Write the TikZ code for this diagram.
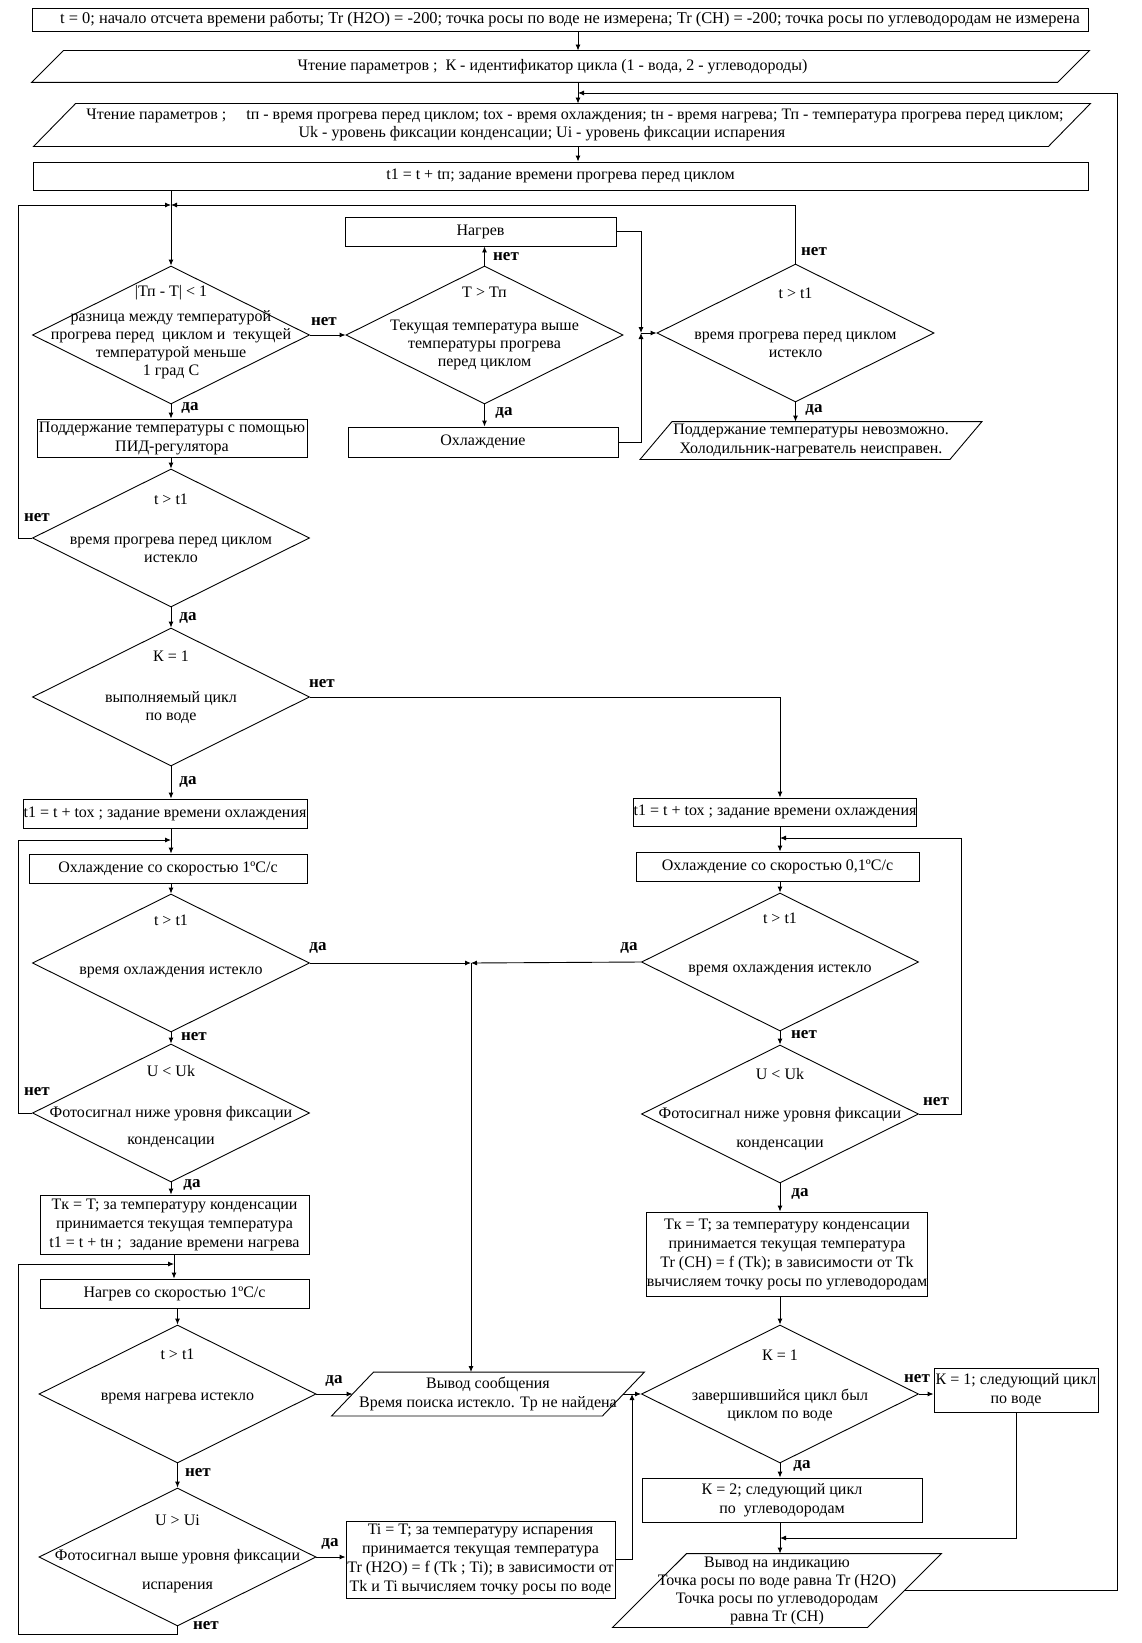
\documentclass[tikz,border=0pt]{standalone}
\usepackage{fontspec}
\setmainfont{Liberation Serif}
\usetikzlibrary{shapes.geometric,arrows.meta}

\begin{document}
\begin{tikzpicture}[x=1pt,y=-1pt,line width=0.9pt,
  font=\fontsize{16}{19}\selectfont,
  blk/.style={draw,inner sep=0pt,align=center},
  iotxt/.style={inner sep=0pt,align=center},
  io/.style={draw},
  dec/.style={diamond,draw,inner sep=0pt,minimum width=277pt,minimum height=138pt},
  dtxt/.style={align=center,inner sep=0pt,font=\fontsize{16}{18}\selectfont},
  hdr/.style={font=\fontsize{16}{18}\selectfont},
  lbl/.style={font=\fontsize{17}{20}\selectfont\bfseries,inner sep=0pt},
  ar/.style={-{Latex[length=6pt,width=5pt]}}]
\useasboundingbox (0,0) rectangle (1142,1643);
% ---- columns and junctions
\coordinate (lc) at (171,0);
\coordinate (lc2) at (177.5,0);
\coordinate (rc) at (780,0);
\coordinate (lft) at (18,0);
\coordinate (rr) at (961,0);
\coordinate (rgt) at (1117,0);
\coordinate (bt) at (0,1634);
\coordinate (sp) at (578,93);
\coordinate (j1) at (171,205);
\coordinate (j2) at (641,333);
\coordinate (j3) at (171,840);
\coordinate (j4) at (471,963);
\coordinate (j5) at (174,1264);
\coordinate (j6) at (632,1394);
\coordinate (j7) at (780,838);
\coordinate (j8) at (780,1538);
% ---- header
\node[blk,font=\fontsize{16.4}{18}\selectfont,minimum width=1056pt,minimum height=23pt] (b0) at (560,19.5) {\hspace*{20pt}t = 0; начало отсчета времени работы; Tr (H2O) = -200; точка росы по воде не измерена; Tr (CH) = -200; точка росы по углеводородам не измерена};
\node[iotxt,hdr,minimum width=1025pt,minimum height=31pt] (p1) at (560.5,66.5) {Чтение параметров ;\ \ К - идентификатор цикла (1 - вода, 2 - углеводороды)\hspace*{16pt}};
\draw[io] ([xshift=-16pt]p1.south west) -- ([xshift=16pt]p1.north west) -- ([xshift=16pt]p1.north east) -- ([xshift=-16pt]p1.south east) -- cycle;
\node[iotxt,hdr,minimum width=1014pt,minimum height=42pt] (p2) at (562,125) {\hspace*{26pt}Чтение параметров ;\quad\ tп - время прогрева перед циклом; tох - время охлаждения; tн - время нагрева; Тп - температура прогрева перед циклом;\\Uk - уровень фиксации конденсации; Ui - уровень фиксации испарения\hspace*{40pt}};
\draw[io] ([xshift=-21pt]p2.south west) -- ([xshift=21pt]p2.north west) -- ([xshift=21pt]p2.north east) -- ([xshift=-21pt]p2.south east) -- cycle;
\node[blk,hdr,minimum width=1055pt,minimum height=28pt] (b1) at (560.5,176) {t1 = t + tп; задание времени прогрева перед циклом};
% ---- preheating
\node[dec] (d1) at (171,335) {};
\node[dtxt] (d1t) at (171,332) {|Тп - T| < 1\\[7pt]разница между температурой\\прогрева перед\ \ циклом и\ \ текущей\\температурой меньше\\1 град С};
\node[dec] (d2) at (484.5,335) {};
\node[dtxt] (d2t) at (484.5,328.5) {Т > Тп\\[15pt]Текущая температура выше\\температуры прогрева\\перед циклом};
\node[dec] (d3) at (795.5,333) {};
\node[dtxt] (d3t) at (795.5,322.5) {t > t1\\[23pt]время прогрева перед циклом\\истекло};
\node[blk,minimum width=271pt,minimum height=29pt] (heat) at (480.5,231.5) {Нагрев};
\node[blk,minimum width=270pt,minimum height=30pt] (cool) at (483,442) {Охлаждение};
\node[blk,minimum width=270pt,minimum height=38pt] (pid) at (172,438) {Поддержание температуры с помощью\\ПИД-регулятора};
\node[iotxt,minimum width=309pt,minimum height=37pt] (p3) at (811,440.5) {Поддержание температуры невозможно.\\Холодильник-нагреватель неисправен.};
\draw[io] ([xshift=-16pt]p3.south west) -- ([xshift=16pt]p3.north west) -- ([xshift=16pt]p3.north east) -- ([xshift=-16pt]p3.south east) -- cycle;
\node[dec] (d4) at (171,538) {};
\node[dtxt] (d4t) at (171,528.5) {t > t1\\[22pt]время прогрева перед циклом\\истекло};
\node[dec] (d5) at (171,697) {};
\node[dtxt] (d5t) at (171,687) {К = 1\\[23pt]выполняемый цикл\\по воде};
% ---- water cycle (left)
\node[blk,minimum width=284pt,minimum height=29pt] (tox1) at (165,813.5) {t1 = t + tох ; задание времени охлаждения};
\node[blk,minimum width=278pt,minimum height=29pt] (cl1) at (168,868.5) {Охлаждение со скоростью 1ºC/c};
\node[dec] (dl3) at (171,963) {};
\node[dtxt] (dl3t) at (171,946.5) {t > t1\\[31pt]время охлаждения истекло};
\node[dec] (dl4) at (171,1113) {};
\node[dtxt] (dl4t) at (171,1106) {U < Uk\\[23pt]Фотосигнал ниже уровня фиксации\\[9pt]конденсации};
\node[blk,minimum width=269pt,minimum height=59pt] (tkl) at (174.5,1224.5) {Tк = T; за температуру конденсации\\принимается текущая температура\\t1 = t + tн ;\ \ задание времени нагрева};
\node[blk,minimum width=269pt,minimum height=29pt] (ht) at (174.5,1293.5) {Нагрев со скоростью 1ºC/c};
\node[dec] (dl5) at (177.5,1394) {};
\node[dtxt] (dl5t) at (177.5,1376.5) {t > t1\\[23pt]время нагрева истекло};
\node[dec] (dl6) at (177.5,1557) {};
\node[dtxt] (dl6t) at (177.5,1554) {U > Ui\\[17pt]Фотосигнал выше уровня фиксации\\[11pt]испарения};
\node[blk,minimum width=269pt,minimum height=77pt] (ti) at (480.5,1559.5) {Ti = T; за температуру испарения\\принимается текущая температура\\Tr (H2O) = f (Tk ; Ti); в зависимости от\\Tk и Ti вычисляем точку росы по воде};
\node[iotxt,minimum width=270pt,minimum height=43pt] (p4) at (488,1394) {Вывод сообщения\\Время поиска истекло. Tр не найдена};
\draw[io] ([xshift=-21pt]p4.south west) -- ([xshift=21pt]p4.north west) -- ([xshift=21pt]p4.north east) -- ([xshift=-21pt]p4.south east) -- cycle;
% ---- hydrocarbon cycle (right)
\node[blk,minimum width=282pt,minimum height=28pt] (tox2) at (775,812) {t1 = t + tох ; задание времени охлаждения};
\node[blk,minimum width=283pt,minimum height=29pt] (cl2) at (777.5,866.5) {Охлаждение со скоростью 0,1ºC/c};
\node[dec] (dr3) at (780,962) {};
\node[dtxt] (dr3t) at (780,944.5) {t > t1\\[31pt]время охлаждения истекло};
\node[dec] (dr4) at (780,1114) {};
\node[dtxt] (dr4t) at (780,1109) {U < Uk\\[21pt]Фотосигнал ниже уровня фиксации\\[11pt]конденсации};
\node[blk,minimum width=280pt,minimum height=84pt] (tkr) at (787,1254) {Tк = T; за температуру конденсации\\принимается текущая температура\\Tr (CH) = f (Tk); в зависимости от Tk\\вычисляем точку росы по углеводородам};
\node[dec] (dr5) at (780,1394) {};
\node[dtxt] (dr5t) at (780,1385.5) {К = 1\\[22pt]завершившийся цикл был\\циклом по воде};
\node[blk,minimum width=164pt,minimum height=44pt] (k1) at (1016,1390) {К = 1; следующий цикл\\по воде};
\node[blk,minimum width=280pt,minimum height=44pt] (k2) at (782,1500) {К = 2; следующий цикл\\по\ \ углеводородам};
\node[iotxt,font=\fontsize{16}{18}\selectfont,minimum width=254pt,minimum height=73pt] (p5) at (777,1590.5) {Вывод на индикацию\\Точка росы по воде равна Tr (H2O)\\Точка росы по углеводородам\\равна Tr (CH)};
\draw[io] ([xshift=-37pt]p5.south west) -- ([xshift=37pt]p5.north west) -- ([xshift=37pt]p5.north east) -- ([xshift=-37pt]p5.south east) -- cycle;
% ---- labels
\node[lbl] (n1) at (324,322) {нет};
\node[lbl] (y1) at (190,408) {да};
\node[lbl] (n2) at (506,257) {нет};
\node[lbl] (y2) at (504,413) {да};
\node[lbl] (n3) at (814,252) {нет};
\node[lbl] (y3) at (814,410) {да};
\node[lbl] (n4) at (37,518) {нет};
\node[lbl] (y4) at (188,618) {да};
\node[lbl] (n5) at (322,684) {нет};
\node[lbl] (y5) at (188,782) {да};
\node[lbl] (y6) at (318,948) {да};
\node[lbl] (n6) at (194,1037) {нет};
\node[lbl] (n7) at (37,1092) {нет};
\node[lbl] (y7) at (192,1185) {да};
\node[lbl] (y8) at (334,1381) {да};
\node[lbl] (n8) at (198,1473) {нет};
\node[lbl] (y9) at (330,1544) {да};
\node[lbl] (n9) at (206,1626) {нет};
\node[lbl] (y10) at (629,948) {да};
\node[lbl] (n10) at (804,1035) {нет};
\node[lbl] (n11) at (936,1102) {нет};
\node[lbl] (y11) at (800,1194) {да};
\node[lbl] (n12) at (917,1379) {нет};
\node[lbl] (y12) at (802,1466) {да};
% ---- connections
\draw[ar] (b0.south -| sp) -- (p1.north -| sp);
\draw[ar] (p1.south -| sp) -- (p2.north -| sp);
\draw[ar] (p2.south -| sp) -- (b1.north -| sp);
\draw[ar] (p5.east) -- (p5.east -| rgt) |- (sp);
\draw[ar] (b1.south -| j1) -- (d1.north);
\draw[ar] (d1.east) -- (d2.west);
\draw[ar] (d1.south) -- (d1.south |- pid.north);
\draw[ar] (d2.north) -- (d2.north |- heat.south);
\draw[ar] (d2.south) -- (d2.south |- cool.north);
\draw[ar] (heat.east) -| (j2);
\draw[ar] (cool.east) -| (j2);
\draw[ar] (j2) -- (d3.west);
\draw[ar] (d3.north) |- (j1);
\draw[ar] (d3.south) -- (d3.south |- p3.north);
\draw[ar] (pid.south -| lc) -- (d4.north);
\draw[ar] (d4.west) -- (d4.west -| lft) |- (j1);
\draw[ar] (d4.south) -- (d5.north);
\draw[ar] (d5.east) -| (tox2.north -| rc);
\draw[ar] (d5.south) -- (tox1.north -| lc);
\draw[ar] (tox1.south -| lc) -- (cl1.north -| lc);
\draw[ar] (dl4.west) -- (dl4.west -| lft) |- (j3);
\draw[ar] (cl1.south -| lc) -- (dl3.north);
\draw[ar] (dl3.east) -- (j4);
\draw[ar] (dr3.west) -- (j4);
\draw[ar] (j4) -- (j4 |- p4.north);
\draw[ar] (dl3.south) -- (dl4.north);
\draw[ar] (dl4.south) -- (tkl.north -| lc);
\draw[ar] (tkl.south -| j5) -- (ht.north -| j5);
\draw[ar] (dl6.south) -- (dl6.south |- bt) -- (bt -| lft) |- (j5);
\draw[ar] (ht.south -| lc2) -- (dl5.north);
\draw[ar] (dl5.east) -- (p4.west);
\draw[ar] (dl5.south) -- (dl6.north);
\draw[ar] (dl6.east) -- (dl6.east -| ti.west);
\draw[ar] (ti.east) -| (j6);
\draw[ar] (p4.east) -- (dr5.west);
\draw[ar] (tox2.south -| rc) -- (cl2.north -| rc);
\draw[ar] (dr4.east) -- (dr4.east -| rr) |- (j7);
\draw[ar] (cl2.south -| rc) -- (dr3.north);
\draw[ar] (dr3.south) -- (dr4.north);
\draw[ar] (dr4.south) -- (tkr.north -| rc);
\draw[ar] (tkr.south -| rc) -- (dr5.north);
\draw[ar] (dr5.east) -- (dr5.east -| k1.west);
\draw[ar] (dr5.south) -- (k2.north -| rc);
\draw[ar] (k1.south) |- (j8);
\draw[ar] (k2.south -| rc) -- (p5.north -| rc);
\end{tikzpicture}
\end{document}
